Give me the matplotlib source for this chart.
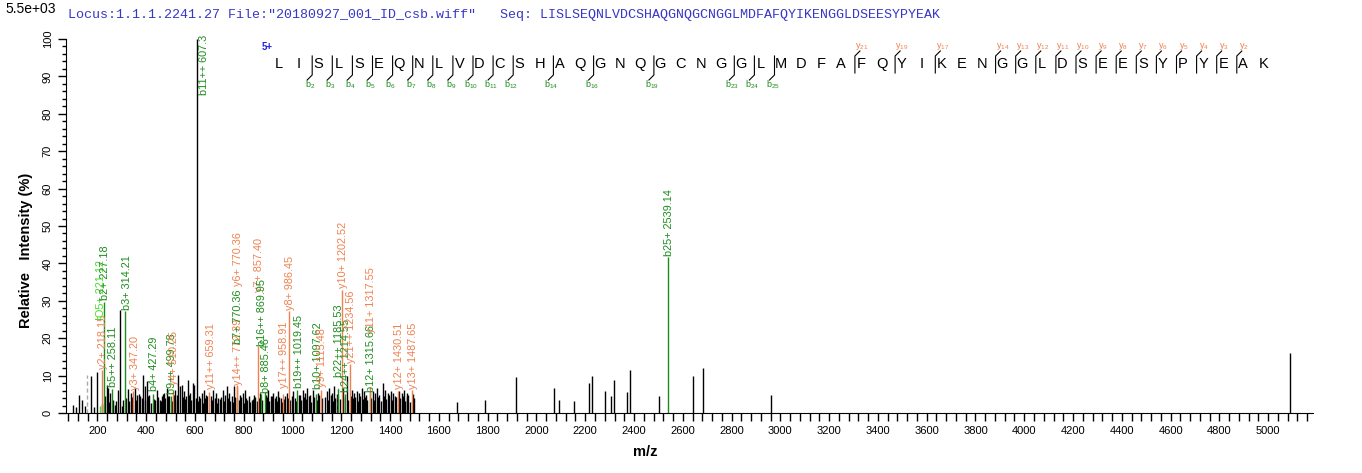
import matplotlib
matplotlib.use("Agg")
import matplotlib.pyplot as plt
from matplotlib.ticker import MultipleLocator, FuncFormatter

plt.rcParams['font.family'] = ['Liberation Sans', 'DejaVu Sans']

W, H = 1362, 473

# unannotated peaks (m/z, relative intensity %)
peak_mz = [101.2, 110, 125.8, 135.3, 148, 172.2, 187.3, 199.6, 220, 231.0, 237.8, 244.7, 247,
           251.5, 265.2, 271, 276.1, 285.7, 292.5, 299.3, 306.2, 318, 326.7, 331, 336.2, 342,
           354.0, 358, 363.6, 369, 374.5, 381, 388.2, 393, 396.4, 404.6, 409, 412.8, 420, 431,
           436.0, 442.8, 448, 456.5, 460, 463.3, 468, 472.9, 478, 483.8, 488, 493.4, 505, 515,
           518.0, 524.8, 528, 531.7, 538.5, 545.3, 550, 554.9, 559, 563.1, 570.0, 575, 579.5,
           585, 590.5, 597.3, 602, 612, 617.8, 622, 627.4, 631, 636.9, 641, 645.1, 651, 664.3,
           669, 675.2, 680, 686.1, 691, 695.7, 702, 708, 713.5, 718, 723.0, 729.9, 735, 740.8,
           745, 750.4, 755, 759.9, 765, 779, 784.5, 790, 795.5, 800, 805.0, 810, 814.6, 820,
           827, 832.3, 836, 841.9, 847, 853, 861, 866.5, 876, 891.1, 896, 900.7, 905, 910.3,
           915, 921.2, 926, 932.1, 937, 941.7, 946, 951.3, 956, 963, 969.0, 975.9, 980, 990,
           996.4, 1003.2, 1009, 1015, 1025, 1030.6, 1036, 1041.5, 1046, 1051.0, 1056, 1060.6,
           1066, 1071.5, 1077, 1082.5, 1088, 1100, 1105.7, 1110, 1122, 1133, 1139.9, 1145,
           1150.8, 1156, 1160.4, 1165, 1169.9, 1176, 1181, 1195, 1205, 1208.2, 1221.9, 1228,
           1238, 1242.4, 1247, 1252.0, 1257, 1262.9, 1268, 1273.8, 1278, 1283.4, 1288, 1293.0,
           1297, 1301.2, 1306, 1322, 1328.5, 1333, 1338.1, 1344.9, 1350, 1355.8, 1361, 1369.5,
           1374, 1379.0, 1385, 1392.7, 1397, 1402.3, 1408, 1413.2, 1420.1, 1425, 1437.8, 1442,
           1447.4, 1452, 1457.0, 1462, 1467.9, 1471, 1474.7, 1480, 1492.5, 1497,
           1672.9, 1787, 1916, 2071, 2093, 2154, 2214, 2227, 2282, 2304, 2319, 2372, 2382,
           2504, 2643, 2684, 2963, 5091]
peak_int = [2.2, 1.5, 4.9, 3.6, 2.0, 10.0, 1.6, 10.9, 2.5, 4.5, 7.6, 6.7, 3.0,
            5.3, 3.6, 2.2, 3.1, 6.2, 27.6, 1.8, 3.6, 4.0, 6.4, 3.2, 5.3, 4.4,
            6.7, 3.5, 4.9, 5.0, 4.5, 4.0, 10.2, 3.4, 7.1, 8.5, 4.6, 4.9, 2.8, 3.7,
            3.6, 6.2, 4.2, 3.6, 3.1, 4.5, 5.1, 5.3, 3.9, 6.7, 4.6, 4.5, 3.3, 4.8,
            6.2, 4.9, 3.6, 10.2, 7.1, 7.6, 4.4, 5.8, 3.8, 4.5, 8.9, 4.9, 5.3,
            3.5, 8.0, 7.6, 4.1, 3.2, 4.5, 4.1, 5.3, 2.8, 6.2, 3.9, 4.9, 4.6, 4.5,
            3.4, 6.2, 4.1, 5.3, 2.6, 4.0, 3.8, 4.4, 6.2, 3.1, 4.9, 7.1, 4.0, 5.3,
            3.3, 4.5, 2.9, 7.1, 4.2, 3.6, 4.9, 4.3, 5.3, 2.7, 6.2, 3.9, 3.6, 4.5,
            3.0, 3.6, 3.8, 4.9, 4.4, 3.1, 4.0, 5.3, 3.5, 4.9, 4.2, 6.2, 3.3, 4.5,
            4.6, 5.3, 3.9, 4.5, 3.2, 5.8, 4.4, 4.0, 2.9, 3.7, 4.5, 5.3, 4.1, 3.4,
            4.5, 5.8, 4.0, 3.2, 4.7, 4.9, 3.6, 6.2, 4.3, 5.3, 3.8, 6.7,
            4.5, 4.9, 3.0, 6.2, 4.2, 3.5, 5.3, 4.8, 3.9, 4.4, 5.8, 3.6,
            6.7, 4.9, 5.3, 3.3, 7.1, 4.1, 5.2, 3.7, 4.3, 6.7, 9.8, 3.5,
            4.6, 6.2, 3.9, 5.3, 4.4, 5.8, 3.2, 5.3, 4.5, 6.7, 3.7, 5.8,
            4.2, 4.9, 3.4, 4.0, 5.8, 3.6, 5.3, 6.7, 4.3, 4.9, 3.1, 8.0,
            4.5, 6.2, 3.8, 5.3, 4.9, 5.8, 3.5, 5.3, 4.5, 4.2, 5.8, 3.9,
            5.3, 4.6, 6.2, 3.3, 5.3, 4.4, 4.9, 3.0, 5.2, 4.1,
            2.9, 3.5, 9.5, 6.6, 3.6, 3.2, 8.0, 10.0, 6.0, 4.6, 8.9, 5.5, 11.6,
            4.6, 10.0, 11.9, 4.9, 16.0]

# grey dashed peaks
dashed_mz = [157, 1188]
dashed_int = [10.2, 7.0]

# annotated fragment peaks
ann_text = ["y2+ 218.15", "IO5+ 221.12", "b2+ 227.18", "b5++ 258.11", "b3+ 314.21",
            "y3+ 347.20", "b4+ 427.29", "b9++ 499.78", "y4+ 510.25", "b11++ 607.3",
            "y11++ 659.31", "y14++ 772.39", "b7+ 770.36", "y6+ 770.36", "y7+ 857.40",
            "b16++ 869.95", "b8+ 885.46", "y17++ 958.91", "y8+ 986.45", "b19++ 1019.45",
            "b10+ 1097.62", "y9+ 1115.48", "b22++ 1185.53", "y10+ 1202.52", "b24++ 1214.55",
            "y21++ 1234.56", "b12+ 1315.66", "y11+ 1317.55", "y12+ 1430.51", "y13+ 1487.65",
            "b25+ 2539.14"]
ann_mz = [218.15, 211.0, 227.18, 258.11, 314.21, 347.20, 427.29, 499.78, 510.25, 607.3,
          659.31, 772.39, 770.4, 770.36, 857.40, 869.95, 885.46, 958.91, 986.45, 1019.45,
          1097.62, 1115.48, 1185.53, 1202.52, 1214.55, 1234.56, 1315.66, 1317.55, 1430.51,
          1487.65, 2539.14]
ann_int = [11.5, 2.0, 29.8, 6.5, 27.2, 5.8, 5.0, 4.5, 6.0, 100, 5.5, 7.2, 4.0, 7.6, 17.8,
           5.0, 5.5, 5.0, 27.2, 6.2, 5.2, 6.2, 6.5, 33.0, 5.0, 13.0, 5.5, 7.0, 6.0, 6.2, 41.7]
ann_kind = ['y', 'io', 'b', 'b', 'b', 'y', 'b', 'b', 'y', 'b', 'y', 'y', 'b', 'y', 'y',
            'b', 'b', 'y', 'y', 'b', 'b', 'y', 'b', 'y', 'b', 'y', 'b', 'y', 'y', 'y', 'b']

# peptide sequence and matched ions
sequence = "LISLSEQNLVDCSHAQGNQGCNGGLMDFAFQYIKENGGLDSEESYPYEAK"
b_ions = [2, 3, 4, 5, 6, 7, 8, 9, 10, 11, 12, 14, 16, 19, 23, 24, 25]
y_ions = [21, 19, 17, 14, 13, 12, 11, 10, 9, 8, 7, 6, 5, 4, 3, 2]

title = 'Locus:1.1.1.2241.27 File:"20180927_001_ID_csb.wiff"   Seq: ' + sequence

# layout: label bottoms (stacked where the software stacked them)
label_bottom = [11.8, 24.8, 30.1, 7.0, 27.5, 6.2, 5.8, 5.0, 7.6, 85, 6.4, 7.5, 18.5, 34.0,
                32.3, 17.8, 5.3, 6.8, 27.5, 6.8, 6.5, 7.0, 9.5, 33.3, 5.5, 13.3, 5.5, 21.5,
                6.5, 6.5, 42.0]

GREEN = '#1b8c1b'
ORANGE = '#f08050'
LIME = '#44dd22'
colors = {'b': GREEN, 'y': ORANGE, 'io': LIME}

fig = plt.figure(figsize=(W / 100, H / 100), dpi=100)
ax = fig.add_axes([66 / W, (H - 413) / H, (1313 - 66) / W, (413 - 39) / H])

ax.vlines(peak_mz, 0, peak_int, colors='black', lw=1.0)
ax.vlines(dashed_mz, 0, dashed_int, colors='#aaaaaa', lw=1.0, linestyles=(0, (3, 2)))
for i, (txt, mz, it, kind) in enumerate(zip(ann_text, ann_mz, ann_int, ann_kind)):
    c = colors[kind]
    line_c = 'black' if it >= 99 else c
    ax.vlines(mz, 0, it, colors=line_c, lw=1.0)
    dx = 30 if it >= 99 else 5
    ax.text(mz + dx, label_bottom[i], txt, rotation=90, ha='center', va='bottom',
            fontsize=7.8, color=c, clip_on=False)

ax.set_xlim(71, 5184)
ax.set_ylim(0, 100)
for s in ['top', 'right']:
    ax.spines[s].set_visible(False)
ax.xaxis.set_major_locator(MultipleLocator(200))
ax.xaxis.set_minor_locator(MultipleLocator(40))
ax.xaxis.set_major_formatter(FuncFormatter(lambda v, p: f"{int(v)}" if v >= 200 else ""))
ax.yaxis.set_major_locator(MultipleLocator(10))
ax.yaxis.set_minor_locator(MultipleLocator(2))
ax.tick_params(axis='x', which='both', length=6, width=1, labelsize=8, pad=3)
ax.tick_params(axis='y', which='major', length=6, width=1, labelsize=8, labelrotation=90)
ax.tick_params(axis='y', which='minor', length=3, width=1)
for lab in ax.get_yticklabels():
    lab.set_va('center')

ax.set_xlabel('m/z', fontsize=10.5, fontweight='bold')
ax.xaxis.set_label_coords((645 - 66) / 1247, -(445 - 413) / 374)
ax.set_ylabel('Relative   Intensity (%)', fontsize=10.5, fontweight='bold')
ax.yaxis.set_label_coords((26 - 66) / 1247, (413 - 250) / 374)
ax.yaxis.label.set_va('center')

# overlay in pixel coordinates for header and sequence map
ov = fig.add_axes([0, 0, 1, 1])
ov.set_xlim(0, W)
ov.set_ylim(H, 0)
ov.axis('off')

ov.text(68, 15, title, family='Liberation Mono', fontsize=9.6, color='#3838c8', va='center')
ov.text(5, 9, '5.5e+03', fontsize=10, va='center')
ov.text(262, 47, '5+', fontsize=7, color='#2020e0', fontweight='bold', va='center')

x0, step = 278.5, 20.1
for i, ch in enumerate(sequence):
    ov.text(x0 + step * i, 64, ch, ha='center', va='center', fontsize=10.5)
for n in b_ions:
    x = x0 + step * n - 6.5
    ov.plot([x, x, x - 5], [56, 75, 80], color='black', lw=0.8)
    ov.text(x - 2, 85, r'$\mathregular{b_{%d}}$' % n, color=GREEN, fontsize=6.5,
            ha='center', va='center')
for n in y_ions:
    x = x0 + step * (len(sequence) - n) - 6.5
    ov.plot([x, x, x + 5], [73, 56, 51], color='black', lw=0.8)
    ov.text(x + 7, 46, r'$\mathregular{y_{%d}}$' % n, color=ORANGE, fontsize=6.5,
            ha='center', va='center')

fig.savefig('out.png', dpi=100)
